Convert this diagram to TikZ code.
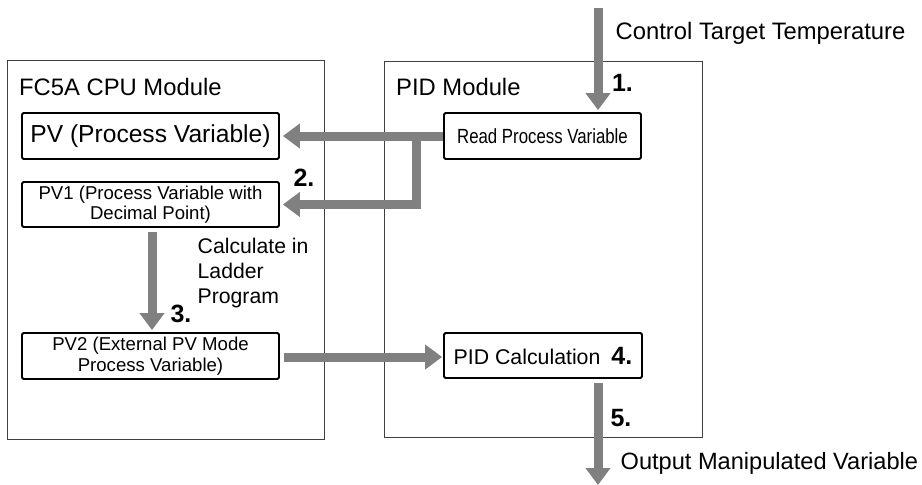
\documentclass[tikz,border=0pt]{standalone}
\usepackage{fontspec}
\setmainfont{Liberation Sans}
\newfontfamily\narrowfont[FakeStretch=0.82]{Liberation Sans}
\usetikzlibrary{arrows.meta}
\definecolor{flowgray}{HTML}{808080}
\definecolor{framegray}{HTML}{404040}
\tikzset{
  modbox/.style={draw=framegray, line width=0.9pt, anchor=north west, inner sep=0pt},
  inbox/.style={draw=black, line width=1.8pt, rounded corners=1.5pt, align=center, inner sep=0pt},
  flow/.style={draw=flowgray, line width=9pt, -{Triangle[width=24pt,length=17pt]}},
  title/.style={anchor=west, inner sep=0pt, font=\fontsize{23.8}{28}\selectfont},
  note/.style={anchor=west, inner sep=0pt, font=\fontsize{23.8}{28}\selectfont},
  stepnum/.style={inner sep=0pt, font=\fontsize{25}{30}\selectfont\bfseries},
}
\begin{document}
\begin{tikzpicture}[x=1pt, y=-1pt]
\useasboundingbox (0,0) rectangle (922,485);
% module frames
\node[modbox, minimum width=317pt, minimum height=379pt] (cpu) at (7,60) {};
\node[modbox, minimum width=318pt, minimum height=376pt] (pid) at (384,61) {};
\node[title] (cputitle) at (19,87) {FC5A CPU Module};
\node[title] (pidtitle) at (396,87) {PID Module};
% inner boxes
\node[inbox, minimum width=257pt, minimum height=46pt, font=\fontsize{24.6}{28}\selectfont] (pv) at (150.5,136) {PV (Process Variable)};
\node[inbox, minimum width=257pt, minimum height=45pt, font=\fontsize{18.6}{20.5}\selectfont] (pv1) at (150.5,204.5) {PV1 (Process Variable with\\Decimal Point)};
\node[inbox, minimum width=257pt, minimum height=46pt, font=\fontsize{18.6}{20.5}\selectfont] (pv2) at (150.5,356) {PV2 (External PV Mode\\Process Variable)};
\node[inbox, minimum width=197pt, minimum height=46pt, font=\narrowfont\fontsize{20.5}{24}\selectfont] (read) at (542.5,136) {Read Process Variable};
\node[inbox, minimum width=198pt, minimum height=45pt, font=\fontsize{21.3}{25}\selectfont] (calc) at (543,355.5) {PID Calculation\hspace{11pt}{\fontsize{25}{30}\selectfont\bfseries 4.}};
% free texts
\node[note] (target) at (615.5,33) {Control Target Temperature};
\node[note, font=\fontsize{23.6}{28}\selectfont] (output) at (620.5,463) {Output Manipulated Variable};
\node[anchor=west, inner sep=0pt, align=left, font=\fontsize{21.2}{25}\selectfont] (ladder) at (197.5,273) {Calculate in\\Ladder\\Program};
\node[stepnum] (s1) at (622.5,83) {1.};
\node[stepnum] (s2) at (304,178) {2.};
\node[stepnum] (s3) at (181,314) {3.};
\node[stepnum] (s5) at (621,418) {5.};
% connectors
\coordinate (in1) at (598,8);
\coordinate (br) at (416,136);
\coordinate (out) at (598,485);
\draw[flow, shorten >=2pt] (in1) -- (in1 |- read.north);
\draw[flow, shorten >=3pt] (read.west) -- (pv.east);
\draw[flow, shorten >=3pt] (br) |- (pv1.east);
\draw[flow, shorten <=4pt, shorten >=2pt] ([xshift=1.5pt]pv1.south) -- ([xshift=1.5pt]pv2.north);
\draw[flow, shorten <=4pt, shorten >=1pt] ([yshift=-1pt]pv2.east) -- ([yshift=-1pt]pv2.east -| calc.west);
\draw[flow, shorten <=4pt] (calc.south -| out) -- (out);
\end{tikzpicture}
\end{document}
